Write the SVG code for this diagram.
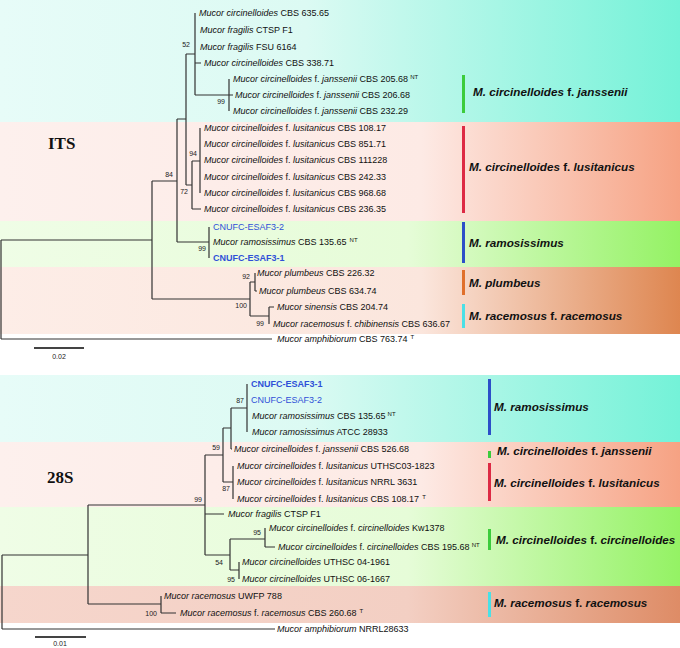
<svg xmlns="http://www.w3.org/2000/svg" width="680" height="648" viewBox="0 0 680 648">
<defs>
<linearGradient id="gCyan" gradientUnits="userSpaceOnUse" x1="0" y1="0" x2="680" y2="0">
<stop offset="0" stop-color="#e7fcf8"/><stop offset="0.45" stop-color="#dcfaf3"/><stop offset="1" stop-color="#74f2d8"/>
</linearGradient>
<linearGradient id="gPink" gradientUnits="userSpaceOnUse" x1="0" y1="0" x2="680" y2="0">
<stop offset="0" stop-color="#fdf0ed"/><stop offset="0.62" stop-color="#fdeae5"/><stop offset="1" stop-color="#f6a283"/>
</linearGradient>
<linearGradient id="gGreen" gradientUnits="userSpaceOnUse" x1="0" y1="0" x2="680" y2="0">
<stop offset="0" stop-color="#effde6"/><stop offset="0.6" stop-color="#e6fcd8"/><stop offset="1" stop-color="#94f264"/>
</linearGradient>
<linearGradient id="gOrange" gradientUnits="userSpaceOnUse" x1="0" y1="0" x2="680" y2="0">
<stop offset="0" stop-color="#fdede7"/><stop offset="0.62" stop-color="#fbe6dd"/><stop offset="1" stop-color="#de8650"/>
</linearGradient>
<linearGradient id="gBrown" gradientUnits="userSpaceOnUse" x1="0" y1="0" x2="680" y2="0">
<stop offset="0" stop-color="#f6d6cc"/><stop offset="0.6" stop-color="#f3cfc3"/><stop offset="1" stop-color="#de8c66"/>
</linearGradient>
</defs>
<style>
.br{fill:none;stroke:#333;stroke-width:1.2}
.lf{font-family:"Liberation Sans",Arial,sans-serif;font-size:9px;fill:#111}
.i{font-style:italic}
.sup{font-size:6px}
.bl{fill:#2f50d8}
.bd{font-weight:bold}
.bs{font-family:"Liberation Sans",Arial,sans-serif;font-size:7px;fill:#222;text-anchor:end}
.cl{font-family:"Liberation Sans",Arial,sans-serif;font-size:11.7px;font-weight:bold;fill:#111}
.tt{font-family:"Liberation Serif","Times New Roman",serif;font-size:17px;font-weight:bold;fill:#111}
.sc{font-family:"Liberation Sans",Arial,sans-serif;font-size:7px;fill:#222;text-anchor:middle}
</style>
<rect width="680" height="648" fill="#fff"/>
<!-- bands ITS -->
<rect x="0" y="0" width="680" height="122" fill="url(#gCyan)"/>
<rect x="0" y="122" width="680" height="99" fill="url(#gPink)"/>
<rect x="0" y="221" width="680" height="46" fill="url(#gGreen)"/>
<rect x="0" y="267" width="680" height="67" fill="url(#gOrange)"/>
<!-- bands 28S -->
<rect x="0" y="375" width="680" height="67" fill="url(#gCyan)"/>
<rect x="0" y="442" width="680" height="65" fill="url(#gPink)"/>
<rect x="0" y="507" width="680" height="79" fill="url(#gGreen)"/>
<rect x="0" y="586" width="680" height="37" fill="url(#gBrown)"/>

<text class="tt" x="48" y="149">ITS</text>
<text class="tt" x="47" y="483">28S</text>

<g id="connectors">
<path class="br" d="M1,240V339M1,240H152M1,339H272
M152,181V299M152,181H177M152,299H250
M177,119V242M177,119H186M177,242H209
M186,54V185M186,54H195M186,185H192
M195,13V95M195,63H201M195,95H229
M229,79V111M229,95H233
M192,161V209M192,161H200M192,209H201
M200,128V193
M209,227V258
M250,282V316M250,282H255M250,316H269
M255,273V291M255,291H257
M269,307V324M269,307H274"/>
<path class="br" d="M2,555V629M2,555H88M2,629H275
M88,505V604M88,505H205M88,604H161
M161,596V613M161,613H176
M205,455V555M205,455H223M205,514H224M205,555H230
M223,428V482M223,428H231M223,482H233
M231,408V449M231,408H247M231,449H232
M247,384V432
M233,466V499
M230,539V570M230,539H265M230,570H239
M265,528V547M265,547H275
M239,562V579"/>
<path d="M34,348H84M35,637H86" stroke="#444" stroke-width="2" fill="none"/>
</g>
<text class="sc" x="59" y="359">0.02</text>
<text class="sc" x="60" y="646">0.01</text>

<!-- bootstrap ITS -->
<g id="bootstrap-its">
<text class="bs" x="190" y="47">52</text>
<text class="bs" x="225" y="104">99</text>
<text class="bs" x="173" y="177">84</text>
<text class="bs" x="197" y="156">94</text>
<text class="bs" x="188" y="194">72</text>
<text class="bs" x="206" y="251">99</text>
<text class="bs" x="250" y="279">92</text>
<text class="bs" x="247" y="308">100</text>
<text class="bs" x="264" y="326">99</text>
</g>
<g id="bootstrap-28s">
<text class="bs" x="244" y="403">87</text>
<text class="bs" x="220" y="450">59</text>
<text class="bs" x="230" y="491">87</text>
<text class="bs" x="202" y="502">99</text>
<text class="bs" x="261" y="535">95</text>
<text class="bs" x="223" y="565">54</text>
<text class="bs" x="235" y="582">95</text>
<text class="bs" x="157" y="616">100</text>
</g>

<!-- ITS leaves -->
<g id="its-cbs635"><text class="lf" x="199" y="16"><tspan class="i">Mucor circinelloides</tspan> CBS 635.65</text></g>
<g id="its-ctspf1"><text class="lf" x="200" y="33"><tspan class="i">Mucor fragilis</tspan> CTSP F1</text></g>
<g id="its-fsu6164"><text class="lf" x="200" y="50"><tspan class="i">Mucor fragilis</tspan> FSU 6164</text></g>
<g id="its-cbs338"><text class="lf" x="204" y="66"><tspan class="i">Mucor circinelloides</tspan> CBS 338.71</text></g>
<g id="its-j205"><text class="lf" x="233" y="82"><tspan class="i">Mucor circinelloides</tspan> f. <tspan class="i">janssenii</tspan> CBS 205.68<tspan class="sup" dx="2" dy="-3">NT</tspan></text></g>
<g id="its-j206"><text class="lf" x="235" y="98"><tspan class="i">Mucor circinelloides</tspan> f. <tspan class="i">janssenii</tspan> CBS 206.68</text></g>
<g id="its-j232"><text class="lf" x="233" y="114"><tspan class="i">Mucor circinelloides</tspan> f. <tspan class="i">janssenii</tspan> CBS 232.29</text></g>
<g id="its-l108"><text class="lf" x="204" y="131"><tspan class="i">Mucor circinelloides</tspan> f. <tspan class="i">lusitanicus</tspan> CBS 108.17</text></g>
<g id="its-l851"><text class="lf" x="204" y="147"><tspan class="i">Mucor circinelloides</tspan> f. <tspan class="i">lusitanicus</tspan> CBS 851.71</text></g>
<g id="its-l111"><text class="lf" x="204" y="163"><tspan class="i">Mucor circinelloides</tspan> f. <tspan class="i">lusitanicus</tspan> CBS 111228</text></g>
<g id="its-l242"><text class="lf" x="204" y="180"><tspan class="i">Mucor circinelloides</tspan> f. <tspan class="i">lusitanicus</tspan> CBS 242.33</text></g>
<g id="its-l968"><text class="lf" x="204" y="196"><tspan class="i">Mucor circinelloides</tspan> f. <tspan class="i">lusitanicus</tspan> CBS 968.68</text></g>
<g id="its-l236"><text class="lf" x="204" y="212"><tspan class="i">Mucor circinelloides</tspan> f. <tspan class="i">lusitanicus</tspan> CBS 236.35</text></g>
<g id="its-esaf32"><text class="lf bl" x="213" y="230">CNUFC-ESAF3-2</text></g>
<g id="its-ram135"><text class="lf" x="213" y="245"><tspan class="i">Mucor ramosissimus</tspan> CBS 135.65<tspan class="sup" dx="3" dy="-3">NT</tspan></text></g>
<g id="its-esaf31"><text class="lf bl bd" x="213" y="261">CNUFC-ESAF3-1</text></g>
<g id="its-plu226"><text class="lf" x="257" y="276"><tspan class="i">Mucor plumbeus</tspan> CBS 226.32</text></g>
<g id="its-plu634"><text class="lf" x="259" y="294"><tspan class="i">Mucor plumbeus</tspan> CBS 634.74</text></g>
<g id="its-sin204"><text class="lf" x="277" y="310"><tspan class="i">Mucor sinensis</tspan> CBS 204.74</text></g>
<g id="its-chi636"><text class="lf" x="273" y="327"><tspan class="i">Mucor racemosus</tspan> f. <tspan class="i">chibinensis</tspan> CBS 636.67</text></g>
<g id="its-amph"><text class="lf" x="277" y="342"><tspan class="i">Mucor amphibiorum</tspan> CBS 763.74<tspan class="sup" dx="3" dy="-3">T</tspan></text></g>

<!-- ITS clade labels -->
<g id="its-clade-janssenii"><rect x="462" y="75" width="3" height="38" fill="#3ccc3c"/><text class="cl" x="473" y="96"><tspan class="i">M. circinelloides</tspan> f. <tspan class="i">janssenii</tspan></text></g>
<g id="its-clade-lusitanicus"><rect x="462" y="126" width="3" height="87" fill="#dd2a44"/><text class="cl" x="469" y="171"><tspan class="i">M. circinelloides</tspan> f. <tspan class="i">lusitanicus</tspan></text></g>
<g id="its-clade-ramosissimus"><rect x="462" y="222" width="3" height="41" fill="#2c4fc8"/><text class="cl i" x="469" y="247">M. ramosissimus</text></g>
<g id="its-clade-plumbeus"><rect x="462" y="270" width="3" height="25" fill="#e0702c"/><text class="cl i" x="469" y="287">M. plumbeus</text></g>
<g id="its-clade-racemosus"><rect x="462" y="304" width="3" height="24" fill="#4ae0e6"/><text class="cl" x="469" y="320"><tspan class="i">M. racemosus</tspan> f. <tspan class="i">racemosus</tspan></text></g>

<!-- 28S leaves -->
<g id="s-esaf31"><text class="lf bl bd" x="251" y="387">CNUFC-ESAF3-1</text></g>
<g id="s-esaf32"><text class="lf bl" x="251" y="403">CNUFC-ESAF3-2</text></g>
<g id="s-ram135"><text class="lf" x="252" y="419"><tspan class="i">Mucor ramosissimus</tspan> CBS 135.65<tspan class="sup" dx="2" dy="-3">NT</tspan></text></g>
<g id="s-ramatcc"><text class="lf" x="252" y="435"><tspan class="i">Mucor ramosissimus</tspan> ATCC 28933</text></g>
<g id="s-j526"><text class="lf" x="234" y="452"><tspan class="i">Mucor circinelloides</tspan> f. <tspan class="i">janssenii</tspan> CBS 526.68</text></g>
<g id="s-luth"><text class="lf" x="237" y="469"><tspan class="i">Mucor circinelloides</tspan> f. <tspan class="i">lusitanicus</tspan> UTHSC03-1823</text></g>
<g id="s-lnrrl"><text class="lf" x="237" y="485"><tspan class="i">Mucor circinelloides</tspan> f. <tspan class="i">lusitanicus</tspan> NRRL 3631</text></g>
<g id="s-l108"><text class="lf" x="237" y="502"><tspan class="i">Mucor circinelloides</tspan> f. <tspan class="i">lusitanicus</tspan> CBS 108.17<tspan class="sup" dx="3" dy="-3">T</tspan></text></g>
<g id="s-frag"><text class="lf" x="228" y="517"><tspan class="i">Mucor fragilis</tspan> CTSP F1</text></g>
<g id="s-kw"><text class="lf" x="269" y="531"><tspan class="i">Mucor circinelloides</tspan> f. <tspan class="i">circinelloides</tspan> Kw1378</text></g>
<g id="s-c195"><text class="lf" x="278" y="550"><tspan class="i">Mucor circinelloides</tspan> f. <tspan class="i">circinelloides</tspan> CBS 195.68<tspan class="sup" dx="2" dy="-3">NT</tspan></text></g>
<g id="s-uth04"><text class="lf" x="242" y="565"><tspan class="i">Mucor circinelloides</tspan> UTHSC 04-1961</text></g>
<g id="s-uth06"><text class="lf" x="242" y="582"><tspan class="i">Mucor circinelloides</tspan> UTHSC 06-1667</text></g>
<g id="s-uwfp"><text class="lf" x="164" y="599"><tspan class="i">Mucor racemosus</tspan> UWFP 788</text></g>
<g id="s-r260"><text class="lf" x="180" y="616"><tspan class="i">Mucor racemosus</tspan> f. <tspan class="i">racemosus</tspan> CBS 260.68<tspan class="sup" dx="3" dy="-3">T</tspan></text></g>
<g id="s-amph"><text class="lf" x="277" y="632"><tspan class="i">Mucor amphibiorum</tspan> NRRL28633</text></g>

<!-- 28S clade labels -->
<g id="s-clade-ramosissimus"><rect x="488" y="379" width="3" height="56" fill="#2c4fc8"/><text class="cl i" x="494" y="411">M. ramosissimus</text></g>
<g id="s-clade-janssenii"><rect x="488" y="451" width="3" height="7" fill="#3ccc3c"/><text class="cl" x="497" y="455"><tspan class="i">M. circinelloides</tspan> f. <tspan class="i">janssenii</tspan></text></g>
<g id="s-clade-lusitanicus"><rect x="488" y="463" width="3" height="38" fill="#dd2a44"/><text class="cl" x="494" y="487"><tspan class="i">M. circinelloides</tspan> f. <tspan class="i">lusitanicus</tspan></text></g>
<g id="s-clade-circinelloides"><rect x="488" y="529" width="3" height="21" fill="#3ccc3c"/><text class="cl" x="496" y="544"><tspan class="i">M. circinelloides</tspan> f. <tspan class="i">circinelloides</tspan></text></g>
<g id="s-clade-racemosus"><rect x="488" y="592" width="3" height="25" fill="#4ae0e6"/><text class="cl" x="494" y="607"><tspan class="i">M. racemosus</tspan> f. <tspan class="i">racemosus</tspan></text></g>
</svg>
